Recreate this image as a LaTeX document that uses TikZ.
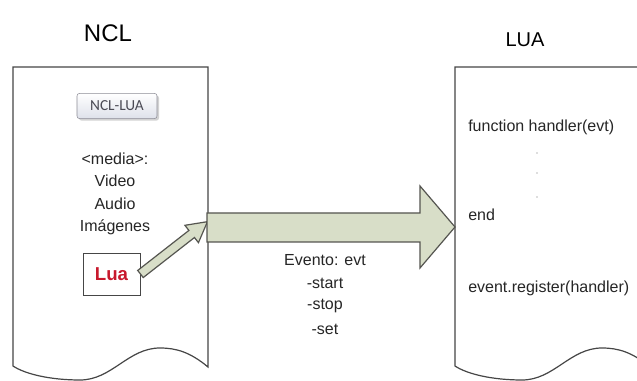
\documentclass[tikz,border=0pt]{standalone}
\usepackage{fontspec}
\setmainfont{Liberation Sans}
\newfontfamily\tagfont{Carlito}
\usetikzlibrary{shadows}
\definecolor{docline}{RGB}{70,70,70}
\definecolor{arrowfill}{RGB}{216,222,200}
\definecolor{arrowline}{RGB}{85,85,80}
\definecolor{luared}{RGB}{200,25,45}
\definecolor{tagline}{RGB}{140,140,150}
\definecolor{tagtext}{RGB}{75,75,85}
\definecolor{tagfill}{RGB}{222,225,234}

\begin{document}
\begin{tikzpicture}[x=0.75pt,y=-0.75pt,
    doc/.style={draw=docline,line width=0.9pt,fill=white},
    body/.style={font=\fontsize{12}{14}\selectfont,text=black!85,inner sep=0pt},
    blockarrow/.style={draw=arrowline,line width=0.9pt,fill=arrowfill,line join=miter}]
  \clip (0,0) rectangle (637,381);
  \fill[white] (0,0) rectangle (637,381);
  % the two pages
  \draw[doc] (13,67) -- (208,67) -- (208,367) .. controls (190,352) and (176,348) .. (160,348)
    .. controls (128,348) and (112,380) .. (80,380) .. controls (50,380) and (25,374) .. (13,366) -- cycle;
  \begin{scope}[shift={(442,0)}]
    \draw[doc] (13,67) -- (208,67) -- (208,367) .. controls (190,352) and (176,348) .. (160,348)
      .. controls (128,348) and (112,380) .. (80,380) .. controls (50,380) and (25,374) .. (13,366) -- cycle;
  \end{scope}
  \node[font=\fontsize{18}{21}\selectfont] (ncl) at (108,33) {NCL};
  \node[font=\fontsize{15}{18}\selectfont] (lua) at (525,40) {LUA};
  % left page
  \node[draw=tagline,rounded corners=2pt,top color=white,bottom color=tagfill,
    drop shadow={shadow xshift=1.5pt,shadow yshift=-1.5pt,opacity=0.35},
    minimum width=60pt,minimum height=19pt,font=\tagfont\fontsize{11.5}{13}\selectfont,
    text=tagtext] (ncllua) at (117,106) {NCL-LUA};
  \node[body] (media) at (115,159) {<media>:};
  \node[body] (video) at (115,181) {Video};
  \node[body] (audio) at (115,204) {Audio};
  \node[body] (imagenes) at (115,227) {Imágenes};
  \node[draw=docline,line width=0.7pt,fill=white,minimum width=42.75pt,minimum height=31.5pt,
    font=\fontsize{14}{16}\selectfont\bfseries,text=luared] (luabox) at (111.5,274) {Lua};
  % arrows
  \begin{scope}[shift={(luabox.east)},rotate=38]
    \draw[blockarrow] (0,-4.5) -- (65,-4.5) -- (65,-11) -- (85,0) -- (65,11) -- (65,4.5) -- (0,4.5) -- cycle;
  \end{scope}
  \coordinate (evtstart) at (207,227);
  \coordinate (evtend) at (455,227);
  \draw[blockarrow] (evtstart) ++(0,-14) -- ++(213,0) -- ++(0,-27) -- (evtend)
    -- ++(-35,41) -- ++(0,-26) -- ++(-213,0) -- cycle;
  \node[body] (evento) at (325,260) {Evento: evt};
  \node[body] (start) at (325,283) {-start};
  \node[body] (stop) at (325,306) {-stop};
  \node[body] (set) at (325,329) {-set};
  % right page
  \node[body,anchor=west] (handler) at (468,127) {function handler(evt)};
  \foreach \y in {153,173,197}
    \fill[black!55] (537,\y) circle (0.7);
  \node[body,anchor=west] (fin) at (468,215) {end};
  \node[body,anchor=west] (register) at (468,288) {event.register(handler)};
\end{tikzpicture}
\end{document}
